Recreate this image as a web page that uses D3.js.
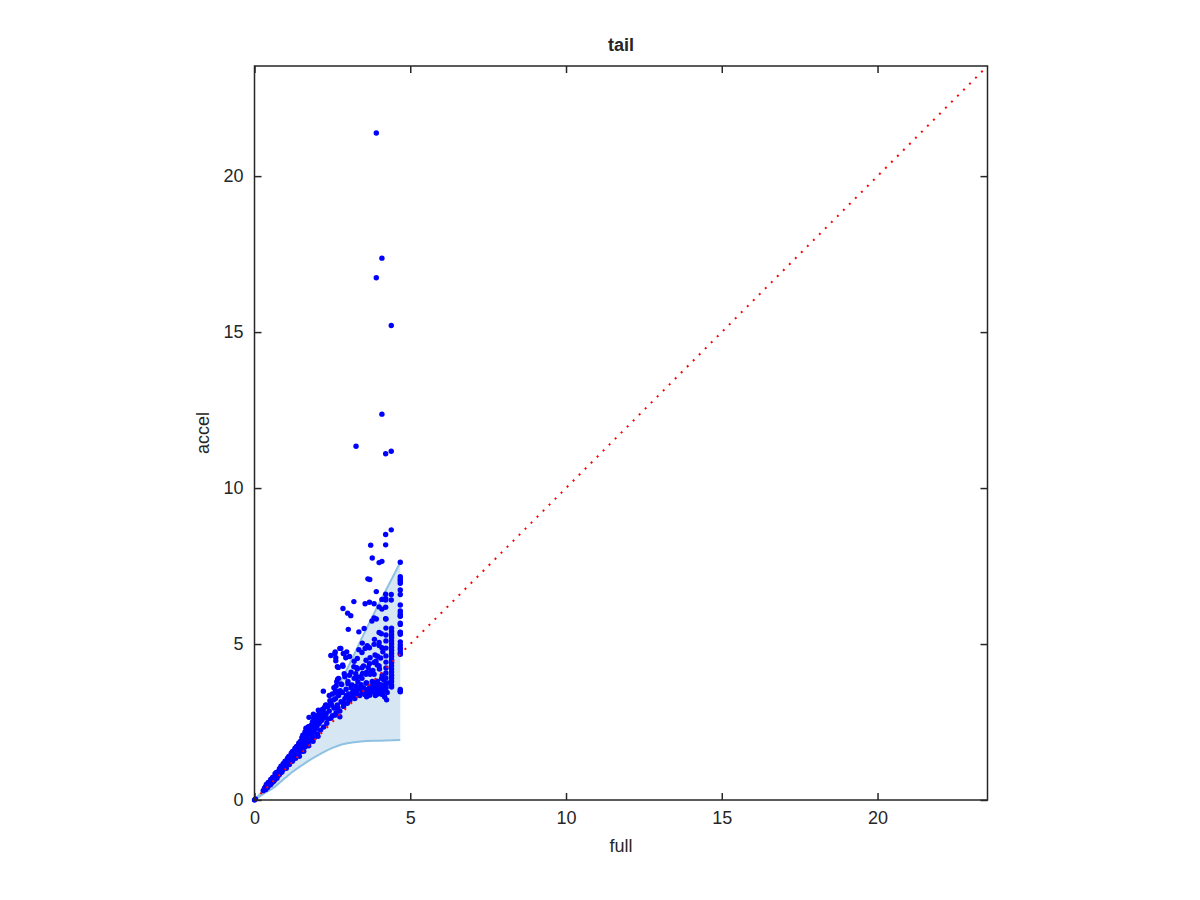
<!DOCTYPE html>
<html>
<head>
<meta charset="utf-8">
<script src="https://cdn.jsdelivr.net/npm/d3@7"></script>
<style>
  html, body { margin: 0; padding: 0; background: #ffffff; }
  svg { display: block; }
  text { font-family: "Liberation Sans", Arial, Helvetica, sans-serif; fill: #262626; }
</style>
</head>
<body>
<svg id="chart" width="1200" height="900"></svg>
<script>
// ---------------- DATA ----------------
const titleText = "tail";
const xLabelText = "full";
const yLabelText = "accel";
const axisMax = 23.53;
const tickValues = [0, 5, 10, 15, 20];

// upper / lower envelope of the shaded band
const upperX = [0, 0.5, 1.0, 1.5, 2.0, 2.5, 3.0, 3.5, 4.0, 4.68];
const upperY = [0, 0.54, 1.13, 1.78, 2.5, 3.3, 4.25, 5.3, 6.3, 7.62];
const lowerX = [0, 0.3, 0.66, 1.0, 1.19, 1.62, 2.16, 2.5, 2.8, 3.2, 3.6, 4.0, 4.68];
const lowerY = [0, 0.2, 0.43, 0.72, 0.88, 1.18, 1.5, 1.67, 1.78, 1.85, 1.89, 1.9, 1.92];

// scattered outliers (full, accel)
const outlierPts = [
  [3.91,21.38],[4.09,17.37],[3.91,16.74],[4.39,15.21],[4.09,12.37],[3.26,11.34],
  [4.21,11.10],[4.39,11.18],[4.39,8.66],[4.21,8.51],[3.73,8.17],[4.21,8.18],
  [3.78,7.76],[4.00,7.61],[4.09,7.65],[3.64,7.09],[3.70,7.07],[3.91,6.68],
  [4.21,6.60],[4.39,6.59],[3.19,6.36],[3.55,6.29],[3.69,6.34],[3.84,6.29],
  [4.09,6.43],[4.21,6.41],[4.21,6.46],[4.39,6.41],[4.00,6.19],[4.09,6.12],
  [4.21,6.18],[2.84,6.14],[2.99,5.99],[3.09,5.91],[3.91,5.80],[4.21,5.81],
  [3.77,5.74],[3.84,5.84],[3.01,5.47],[3.35,5.39],[3.52,5.50],[4.00,5.37],
  [4.07,5.33],[3.46,5.03],[3.55,4.86],[3.69,4.88],[3.84,4.99],[4.00,4.95],
  [4.09,4.88],[2.77,4.86],[2.59,4.75],[2.45,4.63],[2.87,4.69],[2.93,4.56],
  [3.35,4.82],[3.45,4.73],[3.71,4.56],[3.87,4.65],[3.95,4.61],[2.61,4.56],
  [3.30,4.54],[3.58,4.48],[3.69,4.37],[3.84,4.41],[3.94,4.33],[2.66,4.27],
  [2.83,4.33],[3.19,4.27],[3.28,4.24],[3.45,4.24],[3.75,4.13],[4.01,4.20],
  [3.47,4.06],[3.58,4.03],[3.71,4.03],[3.84,4.03],[3.28,3.92],[3.45,3.90],
  [4.08,3.90],[3.00,3.73],[3.13,3.69],[3.32,3.79],[3.60,3.75],[3.81,3.73],
  [3.92,3.81],[2.64,3.79],[2.62,3.66],[2.21,3.49],[2.61,4.46],[2.84,4.29],
  [2.69,4.25],[2.67,3.87],[2.78,3.72],[2.64,3.42],[2.75,3.50],[2.42,3.18],
  [2.54,3.21],[2.35,2.99],[2.48,3.04],[2.05,2.88],[2.16,2.88],[1.89,2.75],
  [1.75,2.65],[1.71,2.32],[1.73,2.35],[2.74,4.86],[2.58,4.70],[2.85,4.70],
  [2.96,4.75]
];

// vertical columns of points at the largest "full" values
const column468 = [7.62,7.16,7.08,7.02,6.95,6.73,6.59,6.25,6.06,5.97,5.91,5.89,5.67,
  5.63,5.38,5.37,5.31,5.07,4.97,4.88,4.82,4.72,4.67,3.54,3.49,3.47];
const column440 = [5.51,5.40,5.30,5.20,5.10,5.00,4.90,4.80,4.70,4.60,4.50,4.40,4.30,
  4.20,4.10,4.00,3.90,3.80,3.69,3.62];
const column422 = [5.80,5.51,5.29,5.10,4.87,4.62,4.42,4.23,4.07,3.91,3.75,3.59];

// dense middle blob
const blobPts = [
  [2.35,2.60],[2.40,2.85],[2.45,3.10],[2.50,2.70],[2.55,2.95],[2.60,3.25],[2.62,2.80],
  [2.66,3.05],[2.70,3.35],[2.74,2.85],[2.78,3.15],[2.82,3.45],[2.86,3.00],[2.90,3.25],
  [2.94,3.55],[2.98,3.10],[3.02,3.40],[3.06,3.20],[3.10,3.60],[3.14,3.30],[3.18,3.50],
  [3.22,3.25],[3.26,3.65],[3.30,3.40],[3.34,3.55],[3.38,3.35],[3.42,3.70],[3.46,3.45],
  [3.50,3.60],[3.54,3.38],[3.58,3.75],[3.62,3.50],[3.66,3.40],[3.70,3.62],[3.74,3.48],
  [3.78,3.80],[3.82,3.55],[3.86,3.42],[3.90,3.68],[3.94,3.52],[3.98,3.60],[4.02,3.45],
  [4.05,3.70],[4.10,3.38],[4.14,3.55],[4.18,3.30],[4.22,3.62],[4.26,3.45],[4.24,3.21],
  [4.30,3.75],[4.03,3.63],[3.60,3.31],[2.74,2.67],[2.50,3.40],[2.60,3.50],[2.80,3.70],
  [3.00,3.80],[3.20,3.90],[2.90,3.95],[3.10,4.10],[3.40,3.95],[3.60,4.10],[3.80,4.15],
  [4.00,4.30],[4.10,4.00],[3.30,4.20],[2.95,3.35],[3.15,3.45],[3.35,3.60],[3.55,3.55],
  [3.75,3.65],[3.95,3.80],[4.15,3.85],[2.55,3.60],[2.70,3.90],[2.88,4.05],[3.05,4.00],
  [3.25,4.05],[3.50,4.30],[3.65,4.25],[3.90,4.45],[4.05,4.55],[4.12,4.75],[4.00,5.05],
  [3.85,5.15],[3.62,4.95],[3.20,4.45],[3.05,4.60],[2.40,3.35],[2.30,3.05],[2.25,2.80],
  [2.45,2.62],[2.58,2.72],[2.68,2.95],[2.84,3.12],[3.00,3.28],[3.16,3.38],[3.28,3.52],
  [3.44,3.58],[3.52,3.48],[3.68,3.56],[3.80,3.62],[3.92,3.60],[4.08,3.58],[4.18,3.68],
  [3.88,3.35],[3.70,3.36],[3.96,3.40],[4.12,3.46]
];

// dense ribbon along the diagonal for small values
const ribbonPts = [
  [0,0],[0.03,0.03],[0.28,0.30],[0.32,0.38],[0.36,0.34],[0.40,0.46],[0.42,0.40],
  [0.45,0.52],[0.48,0.47],[0.50,0.58],[0.52,0.50],[0.55,0.62],[0.57,0.56],[0.60,0.68],
  [0.62,0.60],[0.64,0.74],[0.66,0.66],[0.68,0.80],[0.70,0.72],[0.72,0.70],[0.74,0.86],
  [0.76,0.78],[0.78,0.92],[0.80,0.82],[0.82,0.96],[0.84,0.88],[0.86,1.02],[0.88,0.90],
  [0.90,1.08],[0.92,0.98],[0.94,1.14],[0.96,1.04],[0.98,1.20],[1.00,1.08],[1.02,1.02],
  [1.04,1.26],[1.06,1.16],[1.08,1.32],[1.10,1.20],[1.12,1.14],[1.14,1.38],[1.16,1.26],
  [1.18,1.44],[1.20,1.30],[1.22,1.24],[1.24,1.52],[1.26,1.38],[1.28,1.58],[1.30,1.42],
  [1.32,1.34],[1.34,1.64],[1.36,1.50],[1.38,1.70],[1.40,1.54],[1.42,1.46],[1.44,1.78],
  [1.46,1.62],[1.48,1.84],[1.50,1.66],[1.52,1.56],[1.54,1.92],[1.56,1.74],[1.58,1.98],
  [1.60,1.80],[1.62,1.70],[1.64,2.06],[1.66,1.86],[1.68,2.14],[1.70,1.92],[1.72,1.80],
  [1.74,2.20],[1.76,2.00],[1.78,2.30],[1.80,2.06],[1.82,1.90],[1.84,2.36],[1.86,2.14],
  [1.88,2.44],[1.90,2.20],[1.92,2.00],[1.94,2.52],[1.96,2.28],[1.98,2.60],[2.00,2.36],
  [2.02,2.12],[2.04,2.66],[2.06,2.44],[2.08,2.74],[2.10,2.50],[2.12,2.24],[2.14,2.80],
  [2.16,2.56],[2.18,2.90],[2.20,2.62],[2.22,2.34],[2.24,2.96],[2.26,2.70],[2.28,3.04],
  [2.30,2.76],[2.32,2.46],[0.35,0.42],[0.44,0.56],[0.58,0.72],[0.70,0.88],[0.85,1.08],
  [0.98,1.24],[1.10,1.40],[1.22,1.56],[1.35,1.72],[1.47,1.88],[1.60,2.04],[1.70,2.22],
  [1.82,2.40],[1.95,2.58],[2.08,2.78],[1.55,2.08],[1.65,2.30],[1.90,2.62],[2.00,2.70],
  [0.38,0.50],[0.52,0.66],[0.66,0.84],[0.80,1.00],[0.92,1.16],[1.06,1.34],[1.18,1.50],
  [1.30,1.66],[1.42,1.82],[1.52,2.00],[1.62,2.18],[1.76,2.34],[1.86,2.50],[2.02,2.50],
  [2.12,2.66],[2.22,2.80],[1.44,1.40],[1.58,1.56],[1.74,1.74],[1.88,1.88],[2.04,2.04]
];

// ---------------- DRAW ----------------
const svg = d3.select("#chart");
const L = 254.5, T = 66, R = 987.5, B = 800;
const x = d3.scaleLinear().domain([0, axisMax]).range([L, R]);
const y = d3.scaleLinear().domain([0, axisMax]).range([B, T]);
const ink = "#262626";

// shaded band
const upper = upperX.map((v, i) => [v, upperY[i]]);
const lower = lowerX.map((v, i) => [v, lowerY[i]]);
const bandPoly = upper.concat(lower.slice().reverse());
const lineGen = d3.line().x(d => x(d[0])).y(d => y(d[1])).curve(d3.curveMonotoneX);

svg.append("path")
  .attr("d", d3.line().x(d => x(d[0])).y(d => y(d[1]))(bandPoly))
  .attr("fill", "#d6e7f3").attr("stroke", "none");
svg.append("path").attr("d", lineGen(upper))
  .attr("fill", "none").attr("stroke", "#8ec1e2").attr("stroke-width", 2);
svg.append("path").attr("d", lineGen(lower))
  .attr("fill", "none").attr("stroke", "#8ec1e2").attr("stroke-width", 2);

// points
const allPts = []
  .concat(ribbonPts)
  .concat(blobPts)
  .concat(outlierPts)
  .concat(column468.map(v => [4.68, v]))
  .concat(column440.map(v => [4.40, v]))
  .concat(column422.map(v => [4.22, v]));

svg.append("g").selectAll("circle").data(allPts).join("circle")
  .attr("cx", d => x(d[0])).attr("cy", d => y(d[1]))
  .attr("r", 2.7).attr("fill", "#0000ff");

// red dotted diagonal
svg.append("line")
  .attr("x1", x(0)).attr("y1", y(0)).attr("x2", x(axisMax)).attr("y2", y(axisMax))
  .attr("stroke", "#ff0000").attr("stroke-width", 2)
  .attr("stroke-dasharray", "2,6.5");

// axes box
svg.append("rect").attr("x", L).attr("y", T).attr("width", R - L).attr("height", B - T)
  .attr("fill", "none").attr("stroke", ink).attr("stroke-width", 1.5);

function styleAxis(g) {
  g.select(".domain").remove();
  g.selectAll(".tick line").attr("stroke", ink).attr("stroke-width", 1.5);
  g.selectAll(".tick text").style("font-size", "18px").attr("fill", ink);
}
svg.append("g").attr("transform", `translate(0,${B})`)
  .call(d3.axisBottom(x).tickValues(tickValues).tickSize(-7).tickPadding(11).tickFormat(d3.format("d")))
  .call(styleAxis);
svg.append("g").attr("transform", `translate(0,${T})`)
  .call(d3.axisTop(x).tickValues(tickValues).tickSize(-7).tickFormat(""))
  .call(styleAxis);
svg.append("g").attr("transform", `translate(${L},0)`)
  .call(d3.axisLeft(y).tickValues(tickValues).tickSize(-7).tickPadding(11).tickFormat(d3.format("d")))
  .call(styleAxis);
svg.append("g").attr("transform", `translate(${R},0)`)
  .call(d3.axisRight(y).tickValues(tickValues).tickSize(-7).tickFormat(""))
  .call(styleAxis);

// labels
svg.append("text").attr("x", (L + R) / 2).attr("y", 51).attr("text-anchor", "middle")
  .style("font-size", "18px").style("font-weight", "bold").attr("fill", "#000").text(titleText);
svg.append("text").attr("x", (L + R) / 2).attr("y", 852).attr("text-anchor", "middle")
  .style("font-size", "18px").text(xLabelText);
svg.append("text").attr("transform", `translate(209,${(T + B) / 2}) rotate(-90)`)
  .attr("text-anchor", "middle").style("font-size", "18px").text(yLabelText);
</script>
</body>
</html>
